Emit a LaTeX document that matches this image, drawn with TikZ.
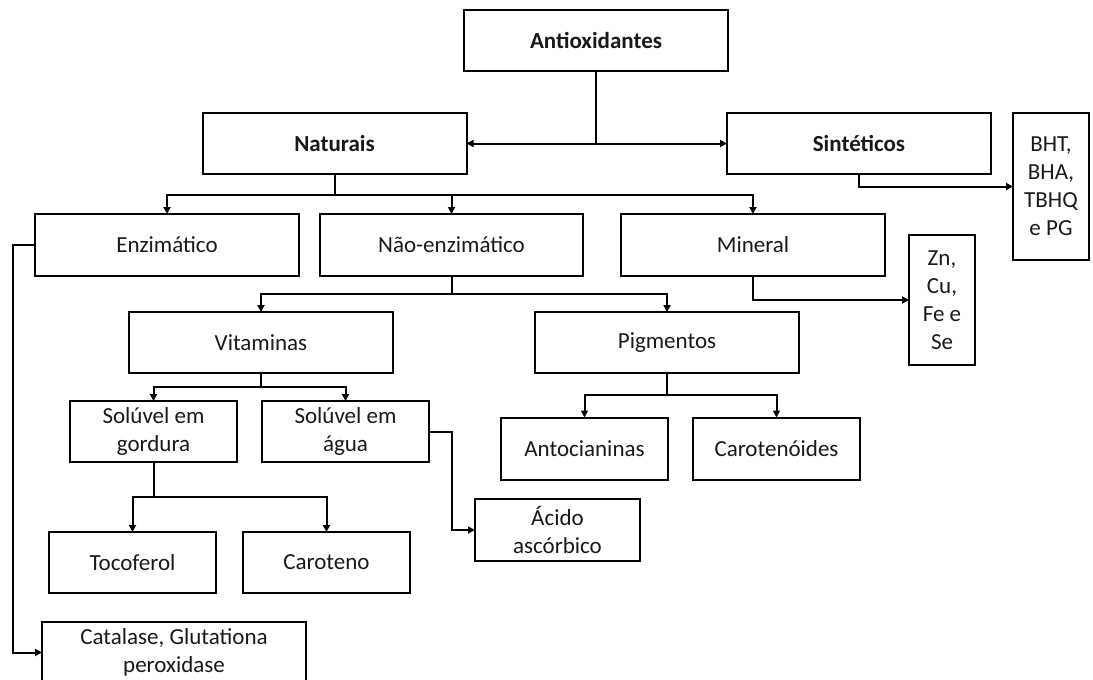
\documentclass[tikz,border=0pt]{standalone}
\usepackage{fontspec}
\setmainfont{Carlito}
\usetikzlibrary{arrows.meta}
\begin{document}
\begin{tikzpicture}[x=1pt,y=-1pt,
  box/.style={draw, rectangle, line width=2pt, inner sep=0pt, outer sep=0pt,
    align=center, text=black!90,
    font=\fontsize{23}{28}\selectfont},
  bigbox/.style={box, minimum width=264pt, minimum height=61pt},
  smallbox/.style={box, minimum width=167pt, minimum height=61pt},
  link/.style={line width=2pt},
  arr/.style={line width=2pt, -{Triangle[length=7pt,width=7pt]}},
  darr/.style={line width=2pt, {Triangle[length=7pt,width=7pt]}-{Triangle[length=7pt,width=7pt]}}]
\useasboundingbox (0,0) rectangle (1093,680);

% nodes
\node[bigbox, font=\fontsize{23}{28}\selectfont\bfseries] (anti) at (596,40.5) {Antioxidantes};
\node[bigbox, font=\fontsize{23}{28}\selectfont\bfseries] (nat) at (334.5,143.5) {Naturais};
\node[bigbox, font=\fontsize{23}{28}\selectfont\bfseries] (sin) at (859,143.5) {Sintéticos};
\node[box, minimum width=76pt, minimum height=147pt] (bht) at (1051,186.5) {BHT,\\BHA,\\TBHQ\\e PG};
\node[bigbox, minimum height=62pt] (enz) at (167,245) {Enzimático};
\node[bigbox, minimum width=263pt, minimum height=62pt] (nenz) at (451.5,245) {Não-enzimático};
\node[bigbox, minimum height=62pt] (min) at (753,245) {Mineral};
\node[box, minimum width=66pt, minimum height=130pt] (zn) at (942,300) {Zn,\\Cu,\\Fe e\\Se};
\node[bigbox] (vit) at (261,342.5) {Vitaminas};
\node[bigbox] (pig) at (667,342.5) {Pigmentos};
\node[smallbox] (gord) at (153.5,431.5) {Solúvel em\\gordura};
\node[smallbox] (agua) at (345.5,431.5) {Solúvel em\\água};
\node[smallbox, minimum height=62pt] (anto) at (584.5,448.5) {Antocianinas};
\node[smallbox, minimum height=62pt] (carot) at (776.5,448.5) {Carotenóides};
\node[smallbox, minimum width=165pt, minimum height=62pt] (acido) at (557.5,530) {Ácido\\ascórbico};
\node[smallbox] (toco) at (132.5,562.5) {Tocoferol};
\node[smallbox] (caro) at (326.5,562.5) {Caroteno};
\node[bigbox, minimum height=62pt] (cat) at (174,652.5) {Catalase, Glutationa\\peroxidase};

% junctions
\coordinate (j0) at (596,143.5);
\coordinate (j1) at (334.5,195);
\coordinate (j2) at (451.5,294);
\coordinate (j3) at (261,387);
\coordinate (j4) at (153.5,497);
\coordinate (j5) at (667,395);
\coordinate (ka) at (452,431.5);
\coordinate (ke) at (13,245);

% connectors
\draw[link] (anti.south) -- (j0);
\draw[darr] (nat.east) -- (sin.west);
\draw[arr] (sin.south) |- (bht.west);

\draw[link] (nat.south) -- (j1);
\draw[arr] (j1) -| (enz.north);
\draw[arr] (j1) -| (min.north);
\draw[arr] (nenz.north |- j1) -- (nenz.north);
\draw[arr] (min.south) |- (zn.west);

\draw[link] (nenz.south) -- (j2);
\draw[arr] (j2) -| (vit.north);
\draw[arr] (j2) -| (pig.north);

\draw[link] (vit.south) -- (j3);
\draw[arr] (j3) -| (gord.north);
\draw[arr] (j3) -| (agua.north);

\draw[link] (pig.south) -- (j5);
\draw[arr] (j5) -| (anto.north);
\draw[arr] (j5) -| (carot.north);

\draw[link] (gord.south) -- (j4);
\draw[arr] (j4) -| (toco.north);
\draw[arr] (j4) -| (caro.north);

\draw[arr] (agua.east) -- (ka) |- (acido.west);
\draw[arr] (enz.west) -- (ke) |- (cat.west);
\end{tikzpicture}
\end{document}
